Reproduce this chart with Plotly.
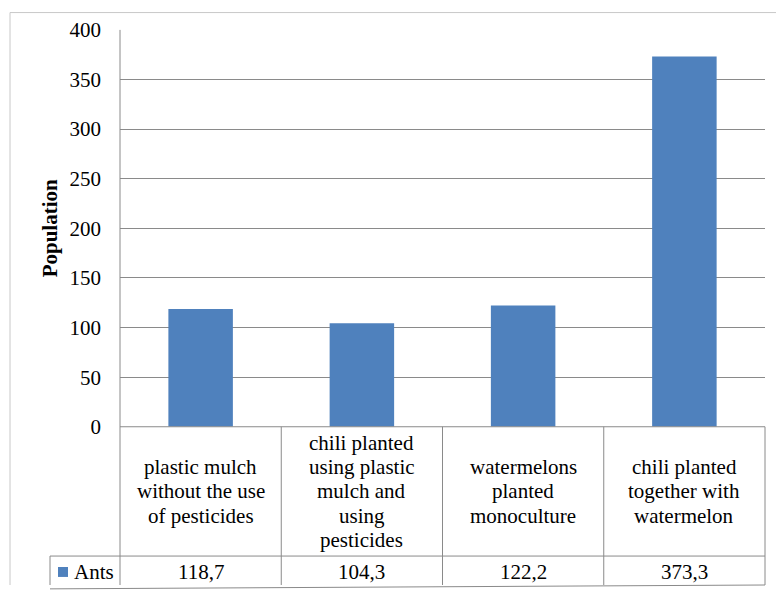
import plotly.graph_objects as go

categories = [
    "plastic mulch<br>without the use<br>of pesticides",
    "chili planted<br>using plastic<br>mulch and<br>using<br>pesticides",
    "watermelons<br>planted<br>monoculture",
    "chili planted<br>together with<br>watermelon",
]
series_name = "Ants"
values = [118.7, 104.3, 122.2, 373.3]
y_ticks = [0, 50, 100, 150, 200, 250, 300, 350, 400]
y_title = "Population"

W, H = 776, 597
FONT = "Liberation Serif, Times New Roman, serif"
FS = 21
BLUE = "#4F81BD"
GRID = "#8a8a8a"

# the page photo maps figure rows as y_shown = A*y + B; place things in shown pixels
A, B = 0.965, 10.0

def px(x):
    return x / W

def py(y):
    return 1 - ((y - B) / A) / H

# pixel layout (as seen in the picture)
PL, PR, PT, PB = 120, 765, 28, 427
ROW1, ROW2 = 557, 590
LEG_L = 50
LINE_H = 24.5

keys = [f"c{i}" for i in range(len(categories))]

fig = go.Figure()
fig.add_trace(go.Bar(x=keys, y=values, marker=dict(color=BLUE, line=dict(width=0)),
                     name=series_name, showlegend=False))

shapes = []
def line(x0, y0, x1, y1, color=GRID, w=1):
    shapes.append(dict(type="line", xref="paper", yref="paper",
                       x0=px(x0), y0=min(py(y0), 0.999), x1=px(x1), y1=max(min(py(y1), 0.999), 0),
                       line=dict(color=color, width=w), layer="above"))

# outer chart border
line(10, 5, W, 5, color="#c8c8c8")
line(10, 5, 10, H + 30, color="#c8c8c8")
# plot area left edge
line(PL, PT, PL, ROW2)
# table lines
line(PL, PB, PR, PB)
line(LEG_L, ROW1, PR, ROW1)
line(LEG_L, ROW2, PR, ROW2)
line(LEG_L, ROW1, LEG_L, ROW2)
col_w = (PR - PL) / len(categories)
for i in range(1, len(categories) + 1):
    xx = PL + col_w * i
    line(xx, PB, xx, ROW2)

# legend key square
shapes.append(dict(type="rect", xref="paper", yref="paper",
                   x0=px(58), x1=px(68), y0=py(568), y1=py(578),
                   fillcolor=BLUE, line=dict(width=0)))

font = dict(family=FONT, size=FS, color="#000")
annotations = []
cell_mid = (PB + ROW1) / 2
for k, cat, v in zip(keys, categories, values):
    parts = cat.split("<br>")
    n = len(parts)
    for i, t in enumerate(parts):
        yy = cell_mid + (i - (n - 1) / 2) * LINE_H
        annotations.append(dict(x=k, xref="x", y=py(yy), yref="paper",
                                text=t, showarrow=False,
                                xanchor="center", yanchor="middle", font=font))
    annotations.append(dict(x=k, xref="x", y=py((ROW1 + ROW2) / 2), yref="paper",
                            text=f"{v:.1f}".replace(".", ","), showarrow=False,
                            xanchor="center", yanchor="middle", font=font))
annotations.append(dict(x=px(72), xref="paper", y=py((ROW1 + ROW2) / 2), yref="paper",
                        text=series_name, showarrow=False, xanchor="left", yanchor="middle",
                        font=font))
annotations.append(dict(x=px(50), xref="paper", y=py((PT + PB) / 2), yref="paper",
                        text=f"<b>{y_title}</b>", showarrow=False, textangle=-90,
                        xanchor="center", yanchor="middle", font=font))

fig.update_layout(
    width=W, height=H,
    margin=dict(l=0, r=0, t=0, b=0),
    paper_bgcolor="white", plot_bgcolor="white",
    bargap=0.6,
    shapes=shapes, annotations=annotations,
    xaxis=dict(domain=[px(PL), px(PR)], range=[-0.5, len(categories) - 0.5],
               showticklabels=False, showgrid=False, zeroline=False, showline=False),
    yaxis=dict(domain=[py(PB), py(PT)], range=[0, 400], tickvals=y_ticks,
               showgrid=True, gridcolor=GRID, gridwidth=1, zeroline=False, showline=False,
               ticks="", ticklabelstandoff=18, tickfont=font),
)

post = ("var d=document.getElementById('{plot_id}');"
        "d.style.position='fixed';d.style.top='0px';d.style.left='0px';"
        "document.body.style.margin='0';"
        "document.documentElement.style.overflow='hidden';")
fig.write_html("out.html", post_script=post, config={"displayModeBar": False})
